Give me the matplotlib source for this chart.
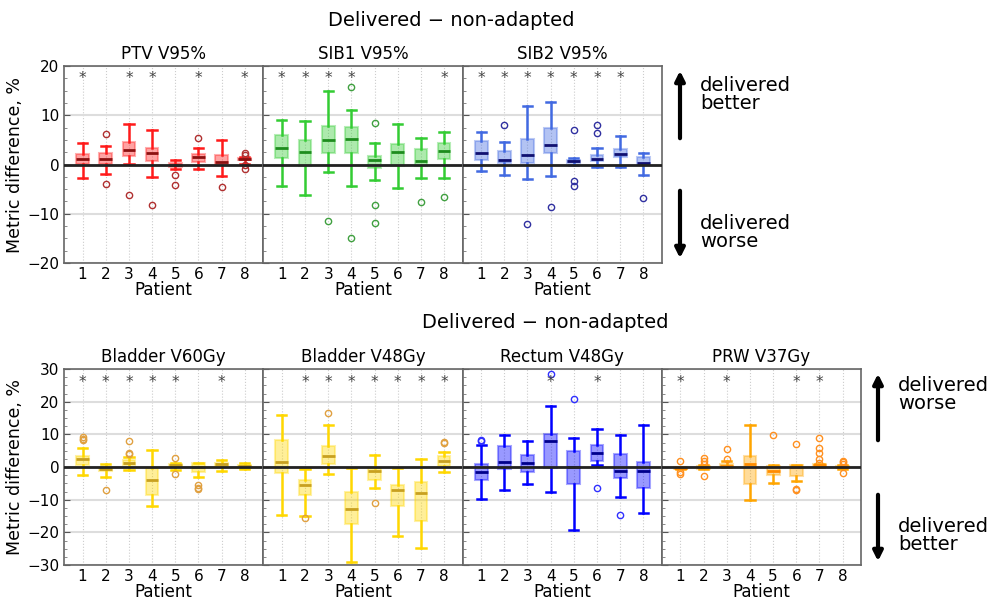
import matplotlib
matplotlib.use("Agg")
import matplotlib.pyplot as plt
from matplotlib.ticker import MultipleLocator
from matplotlib.colors import to_rgba

plt.rcParams['font.family'] = ['DejaVu Sans']

PATIENTS = [1, 2, 3, 4, 5, 6, 7, 8]

# stats per patient: [whislo, q1, median, q3, whishi]
PTV_STATS = [[-2.8, 0.2, 1.2, 2.2, 4.4], [-2.0, 0.2, 1.1, 2.4, 3.7], [0.2, 1.8, 3.0, 4.5, 8.2],
             [-2.6, 0.8, 2.4, 3.4, 7.0], [-1.0, -0.5, -0.1, 0.3, 1.0], [-0.9, 0.6, 1.5, 2.2, 3.4],
             [-2.4, 0.0, 0.5, 2.0, 4.9], [0.2, 0.9, 1.1, 1.4, 1.5]]
PTV_FLIERS = [[], [6.1, -3.9], [-6.1], [-8.2], [-2.2, -4.2], [5.3], [-4.5], [2.3, 2.0, -0.2, -0.9]]
PTV_STARS = [1, 3, 4, 6, 8]

SIB1_STATS = [[-4.3, 1.3, 3.4, 6.0, 9.1], [-6.2, -0.3, 2.6, 4.9, 8.9], [-1.6, 2.3, 4.9, 7.8, 14.9],
              [-4.4, 2.3, 5.1, 7.6, 11.1], [-3.2, -0.8, 1.0, 1.8, 4.3], [-4.8, -0.3, 2.6, 4.1, 8.3],
              [-2.8, -0.4, 0.8, 3.2, 5.3], [-2.7, 1.1, 2.8, 4.4, 6.7]]
SIB1_FLIERS = [[], [], [-11.4], [15.8, -14.9], [8.4, -8.2, -11.9], [], [-7.6], [-6.6]]
SIB1_STARS = [1, 2, 3, 4, 8]

SIB2_STATS = [[-1.4, 0.9, 2.4, 4.7, 6.5], [-2.2, 0.3, 0.9, 2.7, 4.5], [-3.0, 0.3, 2.0, 5.1, 11.9],
              [-2.3, 2.4, 4.0, 7.4, 12.6], [-0.1, 0.3, 0.7, 1.0, 1.4], [-0.5, 0.7, 1.1, 1.9, 3.4],
              [-0.5, 1.5, 2.2, 3.2, 5.7], [-2.2, -0.2, 0.4, 1.5, 2.4]]
SIB2_FLIERS = [[], [8.0], [-12.0], [-8.6], [7.0, -3.3, -4.4], [8.1, 6.4], [], [-6.8]]
SIB2_STARS = [1, 2, 3, 4, 5, 6, 7]

BL60_STATS = [[-2.4, 0.5, 2.6, 3.3, 5.8], [-3.0, -1.2, -0.5, -0.2, 0.9], [-1.0, 0.5, 1.2, 2.0, 3.2],
              [-12.0, -8.7, -3.9, -0.2, 5.2], [-0.8, 0.0, 0.6, 1.0, 1.3], [-3.2, -1.6, 0.0, 1.1, 1.2],
              [-1.2, 0.1, 0.8, 1.3, 2.2], [-0.5, -0.3, 0.3, 0.5, 1.3]]
BL60_FLIERS = [[9.2, 8.7, 8.2], [-7.1], [7.9, 4.3, 4.0], [], [2.8, -2.0], [-5.6, -6.3, -6.8], [], []]
BL60_STARS = [1, 2, 3, 4, 5, 7]

BL48_STATS = [[-14.7, -1.7, 1.6, 8.2, 15.8], [-15.0, -8.7, -5.4, -4.0, -0.5], [-2.0, 0.9, 3.3, 6.3, 12.9],
              [-29.1, -17.3, -12.8, -7.8, -0.3], [-6.4, -4.0, -1.3, -0.3, 3.6], [-21.2, -11.9, -6.9, -5.4, -0.3],
              [-24.7, -16.4, -7.9, -4.7, 2.4], [-1.5, 0.4, 1.8, 3.3, 4.7]]
BL48_FLIERS = [[], [-15.6], [16.6], [], [-11.1], [], [], [7.8, 7.4]]
BL48_STARS = [2, 3, 4, 5, 6, 7, 8]

REC48_STATS = [[-9.9, -4.0, -1.6, 0.9, 6.6], [-7.0, -0.7, 1.5, 6.4, 9.8], [-5.2, -1.5, 1.1, 3.7, 8.0],
               [-7.7, -0.4, 8.0, 10.2, 18.7], [-19.4, -5.3, -0.1, 5.0, 8.9], [0.7, 1.8, 4.2, 6.7, 11.6],
               [-9.2, -3.4, -1.2, 4.1, 9.7], [-14.1, -6.4, -1.3, 1.5, 12.8]]
REC48_FLIERS = [[8.3, 7.9], [], [], [28.6], [20.8], [-6.5], [-14.6], []]
REC48_STARS = [4, 6]

PRW37_STATS = [[-0.7, -0.5, -0.2, 0.0, 0.0], [-0.7, -0.5, -0.1, 0.2, 0.5], [0.0, 0.0, 0.4, 1.0, 1.7],
               [-10.0, -5.2, 0.8, 3.4, 12.8], [-4.9, -2.4, -1.1, 0.2, 0.7], [-4.2, -2.9, 0.0, 0.5, 0.6],
               [0.0, 0.0, 0.5, 0.8, 0.8], [-0.7, -0.3, 0.0, 0.2, 0.5]]
PRW37_FLIERS = [[1.9, -1.5, -2.1], [2.9, 1.8, 1.0, -2.9], [5.4, 2.6], [], [9.9], [6.9, -6.7, -7.1],
                [8.8, 5.7, 4.2, 2.6, 1.3], [1.9, 1.4, 1.0, -1.7]]
PRW37_STARS = [1, 3, 6, 7]

TOP_PANELS = [("PTV V95%", PTV_STATS, PTV_FLIERS, PTV_STARS, '#ff1a1a', '#8b1010', '#b03030'),
              ("SIB1 V95%", SIB1_STATS, SIB1_FLIERS, SIB1_STARS, '#33cc33', '#1e8c1e', '#40a040'),
              ("SIB2 V95%", SIB2_STATS, SIB2_FLIERS, SIB2_STARS, '#4169e1', '#101070', '#3030a0')]
BOT_PANELS = [("Bladder V60Gy", BL60_STATS, BL60_FLIERS, BL60_STARS, '#ffd700', '#c8a020', '#e0a040'),
              ("Bladder V48Gy", BL48_STATS, BL48_FLIERS, BL48_STARS, '#ffd700', '#c8a020', '#e0a040'),
              ("Rectum V48Gy", REC48_STATS, REC48_FLIERS, REC48_STARS, '#0000ff', '#00008b', '#3030ff'),
              ("PRW V37Gy", PRW37_STATS, PRW37_FLIERS, PRW37_STARS, '#ffa500', '#ff8c00', '#ff9020')]

SUPTITLE = "Delivered \u2212 non-adapted"

fig = plt.figure(figsize=(10.03, 6.0), dpi=100)


def draw_panel(ax, title, stats, fliers, stars, col, medcol, flcol, ylim, star_y, major, first):
    bstats = []
    for s, f in zip(stats, fliers):
        bstats.append(dict(whislo=s[0], q1=s[1], med=s[2], q3=s[3], whishi=s[4], fliers=f))
    ax.bxp(bstats, positions=PATIENTS, widths=0.55, patch_artist=True, capwidths=0.4,
           boxprops=dict(facecolor=to_rgba(col, 0.4), edgecolor=to_rgba(col, 0.35), linewidth=1.5),
           whiskerprops=dict(color=col, linewidth=1.8),
           capprops=dict(color=col, linewidth=1.8),
           medianprops=dict(color=medcol, linewidth=2),
           flierprops=dict(marker='o', markerfacecolor='none', markeredgecolor=flcol,
                           markersize=4.5, markeredgewidth=1.0))
    ax.axhline(0, color='#222222', lw=2, zorder=4)
    for p in stars:
        ax.text(p, star_y, '*', ha='center', va='center', fontsize=11, color='#444444')
    ax.set_xlim(0.2, 8.8)
    ax.set_ylim(*ylim)
    ax.set_xticks(PATIENTS)
    ax.set_xticklabels([str(p) for p in PATIENTS])
    ax.yaxis.set_major_locator(MultipleLocator(major))
    ax.yaxis.set_minor_locator(MultipleLocator(major / 4))
    ax.tick_params(axis='x', length=0, labelsize=11, pad=3)
    ax.tick_params(axis='y', which='major', direction='in', length=4, labelsize=11, color='#555555')
    ax.tick_params(axis='y', which='minor', direction='in', length=2, color='#777777')
    if not first:
        ax.tick_params(axis='y', labelleft=False)
    ax.grid(axis='y', which='major', color='#dddddd', lw=1.5, zorder=0)
    ax.grid(axis='x', color='#cccccc', lw=0.8, ls=':', zorder=0)
    ax.set_axisbelow(True)
    for sp in ax.spines.values():
        sp.set_color('#666666')
        sp.set_linewidth(1.2)
    ax.set_title(title, fontsize=12, pad=5)
    ax.set_xlabel("Patient", fontsize=12, labelpad=-1)
    if first:
        ax.set_ylabel("Metric difference, %", fontsize=12.5, labelpad=2)


L = 64 / 1003.0
W = 199.3 / 1003.0
top_b = 1 - 263 / 600.0
top_h = (263 - 66) / 600.0
bot_b = 1 - 565 / 600.0
bot_h = (565 - 369) / 600.0

for i, (t, s, f, st, c, mc, fc) in enumerate(TOP_PANELS):
    ax = fig.add_axes([L + i * W, top_b, W, top_h])
    draw_panel(ax, t, s, f, st, c, mc, fc, (-20, 20), 17.5, 10, i == 0)

for i, (t, s, f, st, c, mc, fc) in enumerate(BOT_PANELS):
    ax = fig.add_axes([L + i * W, bot_b, W, bot_h])
    draw_panel(ax, t, s, f, st, c, mc, fc, (-30, 30), 26.0, 10, i == 0)

fig.text(451 / 1003, 1 - 20 / 600, SUPTITLE, ha='center', va='center', fontsize=14)
fig.text(545 / 1003, 1 - 323 / 600, SUPTITLE, ha='center', va='center', fontsize=14)


def farrow(x, y0, y1):
    fig.add_artist(matplotlib.patches.FancyArrowPatch(
        (x, y0), (x, y1), transform=fig.transFigure, arrowstyle='-|>',
        mutation_scale=14, lw=3, color='black'))


farrow(680 / 1003, 1 - 141 / 600, 1 - 68 / 600)
farrow(680 / 1003, 1 - 188 / 600, 1 - 261 / 600)
farrow(878 / 1003, 1 - 443 / 600, 1 - 371 / 600)
farrow(878 / 1003, 1 - 492 / 600, 1 - 564 / 600)

fig.text(700 / 1003, 1 - 76 / 600, "delivered\nbetter", ha='left', va='top', fontsize=14, linespacing=0.95)
fig.text(700 / 1003, 1 - 214 / 600, "delivered\nworse", ha='left', va='top', fontsize=14, linespacing=0.95)
fig.text(898 / 1003, 1 - 376 / 600, "delivered\nworse", ha='left', va='top', fontsize=14, linespacing=0.95)
fig.text(898 / 1003, 1 - 517 / 600, "delivered\nbetter", ha='left', va='top', fontsize=14, linespacing=0.95)

fig.savefig("out.png", dpi=100)
